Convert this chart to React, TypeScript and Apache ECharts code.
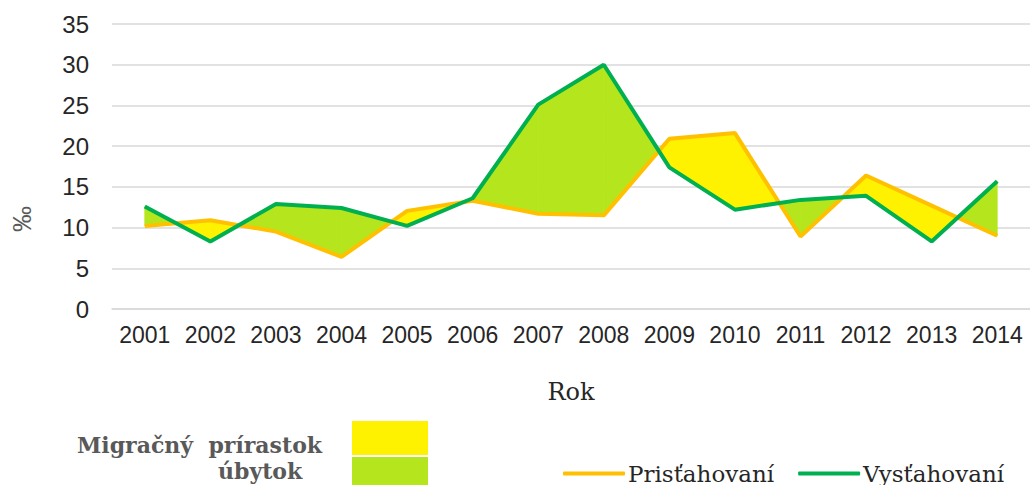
import React, { useEffect, useRef } from "react";
import * as echarts from "echarts";

const years = ["2001", "2002", "2003", "2004", "2005", "2006", "2007", "2008", "2009", "2010", "2011", "2012", "2013", "2014"];
const prist = [10.2, 10.9, 9.5, 6.4, 12.05, 13.3, 11.7, 11.5, 20.9, 21.6, 8.9, 16.4, 12.7, 9.0];
const vyst = [12.6, 8.3, 12.9, 12.4, 10.2, 13.6, 25.1, 30.0, 17.4, 12.2, 13.4, 13.9, 8.3, 15.7];
const yTicks = { min: 0, max: 35, interval: 5 };
const lineNames = ["Prisťahovaní", "Vysťahovaní"];
const fillLegend = ["Migračný  prírastok", "úbytok"];

const ORANGE = "#FFC000";
const GREEN = "#00B050";
const FILL_UP = "#FFF200";
const FILL_DOWN = "#B5E61D";

const segData = years.slice(0, -1).map((_, i) => [i, prist[i], vyst[i], prist[i + 1], vyst[i + 1]]);

export default function App() {
  const ref = useRef<HTMLDivElement>(null);
  useEffect(() => {
    const chart = echarts.init(ref.current!, null, { renderer: "svg" });
    const renderItem = (params: any, api: any) => {
      const i = api.value(0);
      const o0 = api.value(1), g0 = api.value(2), o1 = api.value(3), g1 = api.value(4);
      const A0 = api.coord([i, o0]);
      const B0 = api.coord([i, g0]);
      const A1 = api.coord([i + 1, o1]);
      const B1 = api.coord([i + 1, g1]);
      const d0 = o0 - g0, d1 = o1 - g1;
      const children: any[] = [];
      const poly = (pts: number[][], color: string) => ({
        type: "polygon",
        shape: { points: pts },
        style: { fill: color, stroke: color, lineWidth: 0.8 },
      });
      if (d0 * d1 >= 0) {
        const up = d0 + d1 > 0;
        children.push(poly([A0, A1, B1, B0], up ? FILL_UP : FILL_DOWN));
      } else {
        const t = d0 / (d0 - d1);
        const C = [A0[0] + t * (A1[0] - A0[0]), A0[1] + t * (A1[1] - A0[1])];
        children.push(poly([A0, C, B0], d0 > 0 ? FILL_UP : FILL_DOWN));
        children.push(poly([C, A1, B1], d1 > 0 ? FILL_UP : FILL_DOWN));
      }
      return { type: "group", children };
    };
    chart.setOption({
      animation: false,
      grid: { left: 112, top: 24, width: 920, height: 285 },
      xAxis: {
        type: "category",
        data: years,
        boundaryGap: true,
        axisLine: { show: true, lineStyle: { color: "#D9D9D9", width: 1.5 } },
        axisTick: { show: false },
        axisLabel: { interval: 0, color: "#262626", fontFamily: "Liberation Sans", fontSize: 23, margin: 14 },
        name: "Rok",
        nameLocation: "middle",
        nameGap: 71,
        nameTextStyle: { color: "#262626", fontFamily: "DejaVu Serif", fontSize: 24 },
      },
      yAxis: {
        type: "value",
        min: yTicks.min,
        max: yTicks.max,
        interval: yTicks.interval,
        axisLine: { show: false },
        axisTick: { show: false },
        axisLabel: { color: "#262626", fontFamily: "Liberation Sans", fontSize: 24, margin: 23 },
        splitLine: { lineStyle: { color: "#D9D9D9", width: 1.5 } },
      },
      legend: {
        data: lineNames,
        left: 558,
        top: 457,
        icon: "roundRect",
        itemWidth: 62,
        itemHeight: 4,
        itemGap: 24,
        textStyle: { color: "#262626", fontFamily: "DejaVu Serif", fontSize: 23, padding: [0, 0, 0, -2] },
      },
      graphic: [
        {
          type: "text",
          x: 22,
          y: 219,
          rotation: Math.PI / 2,
          style: { text: "‰", fill: "#595959", fontFamily: "Liberation Sans", fontSize: 26, align: "center", verticalAlign: "middle" },
        },
        {
          type: "text",
          x: 77,
          y: 445,
          style: { text: fillLegend[0], fill: "#595959", fontFamily: "DejaVu Serif", fontWeight: "bold", fontSize: 22, verticalAlign: "middle" },
        },
        {
          type: "text",
          x: 218,
          y: 471,
          style: { text: fillLegend[1], fill: "#595959", fontFamily: "DejaVu Serif", fontWeight: "bold", fontSize: 22, verticalAlign: "middle" },
        },
        { type: "rect", shape: { x: 352, y: 421, width: 76, height: 34 }, style: { fill: FILL_UP } },
        { type: "rect", shape: { x: 352, y: 457, width: 76, height: 34 }, style: { fill: FILL_DOWN } },
      ],
      series: [
        {
          type: "custom",
          name: "fill",
          renderItem,
          data: segData,
          encode: { x: 0, y: [1, 2, 3, 4] },
          z: 1,
          silent: true,
        },
        {
          type: "line",
          name: lineNames[0],
          data: prist,
          symbol: "none",
          lineStyle: { color: ORANGE, width: 4 },
          itemStyle: { color: ORANGE },
          z: 3,
        },
        {
          type: "line",
          name: lineNames[1],
          data: vyst,
          symbol: "none",
          lineStyle: { color: GREEN, width: 4 },
          itemStyle: { color: GREEN },
          z: 4,
        },
      ],
    });
    return () => chart.dispose();
  }, []);
  return <div ref={ref} style={{ position: "absolute", left: 0, top: 0, width: 1030, height: 485 }} />;
}
